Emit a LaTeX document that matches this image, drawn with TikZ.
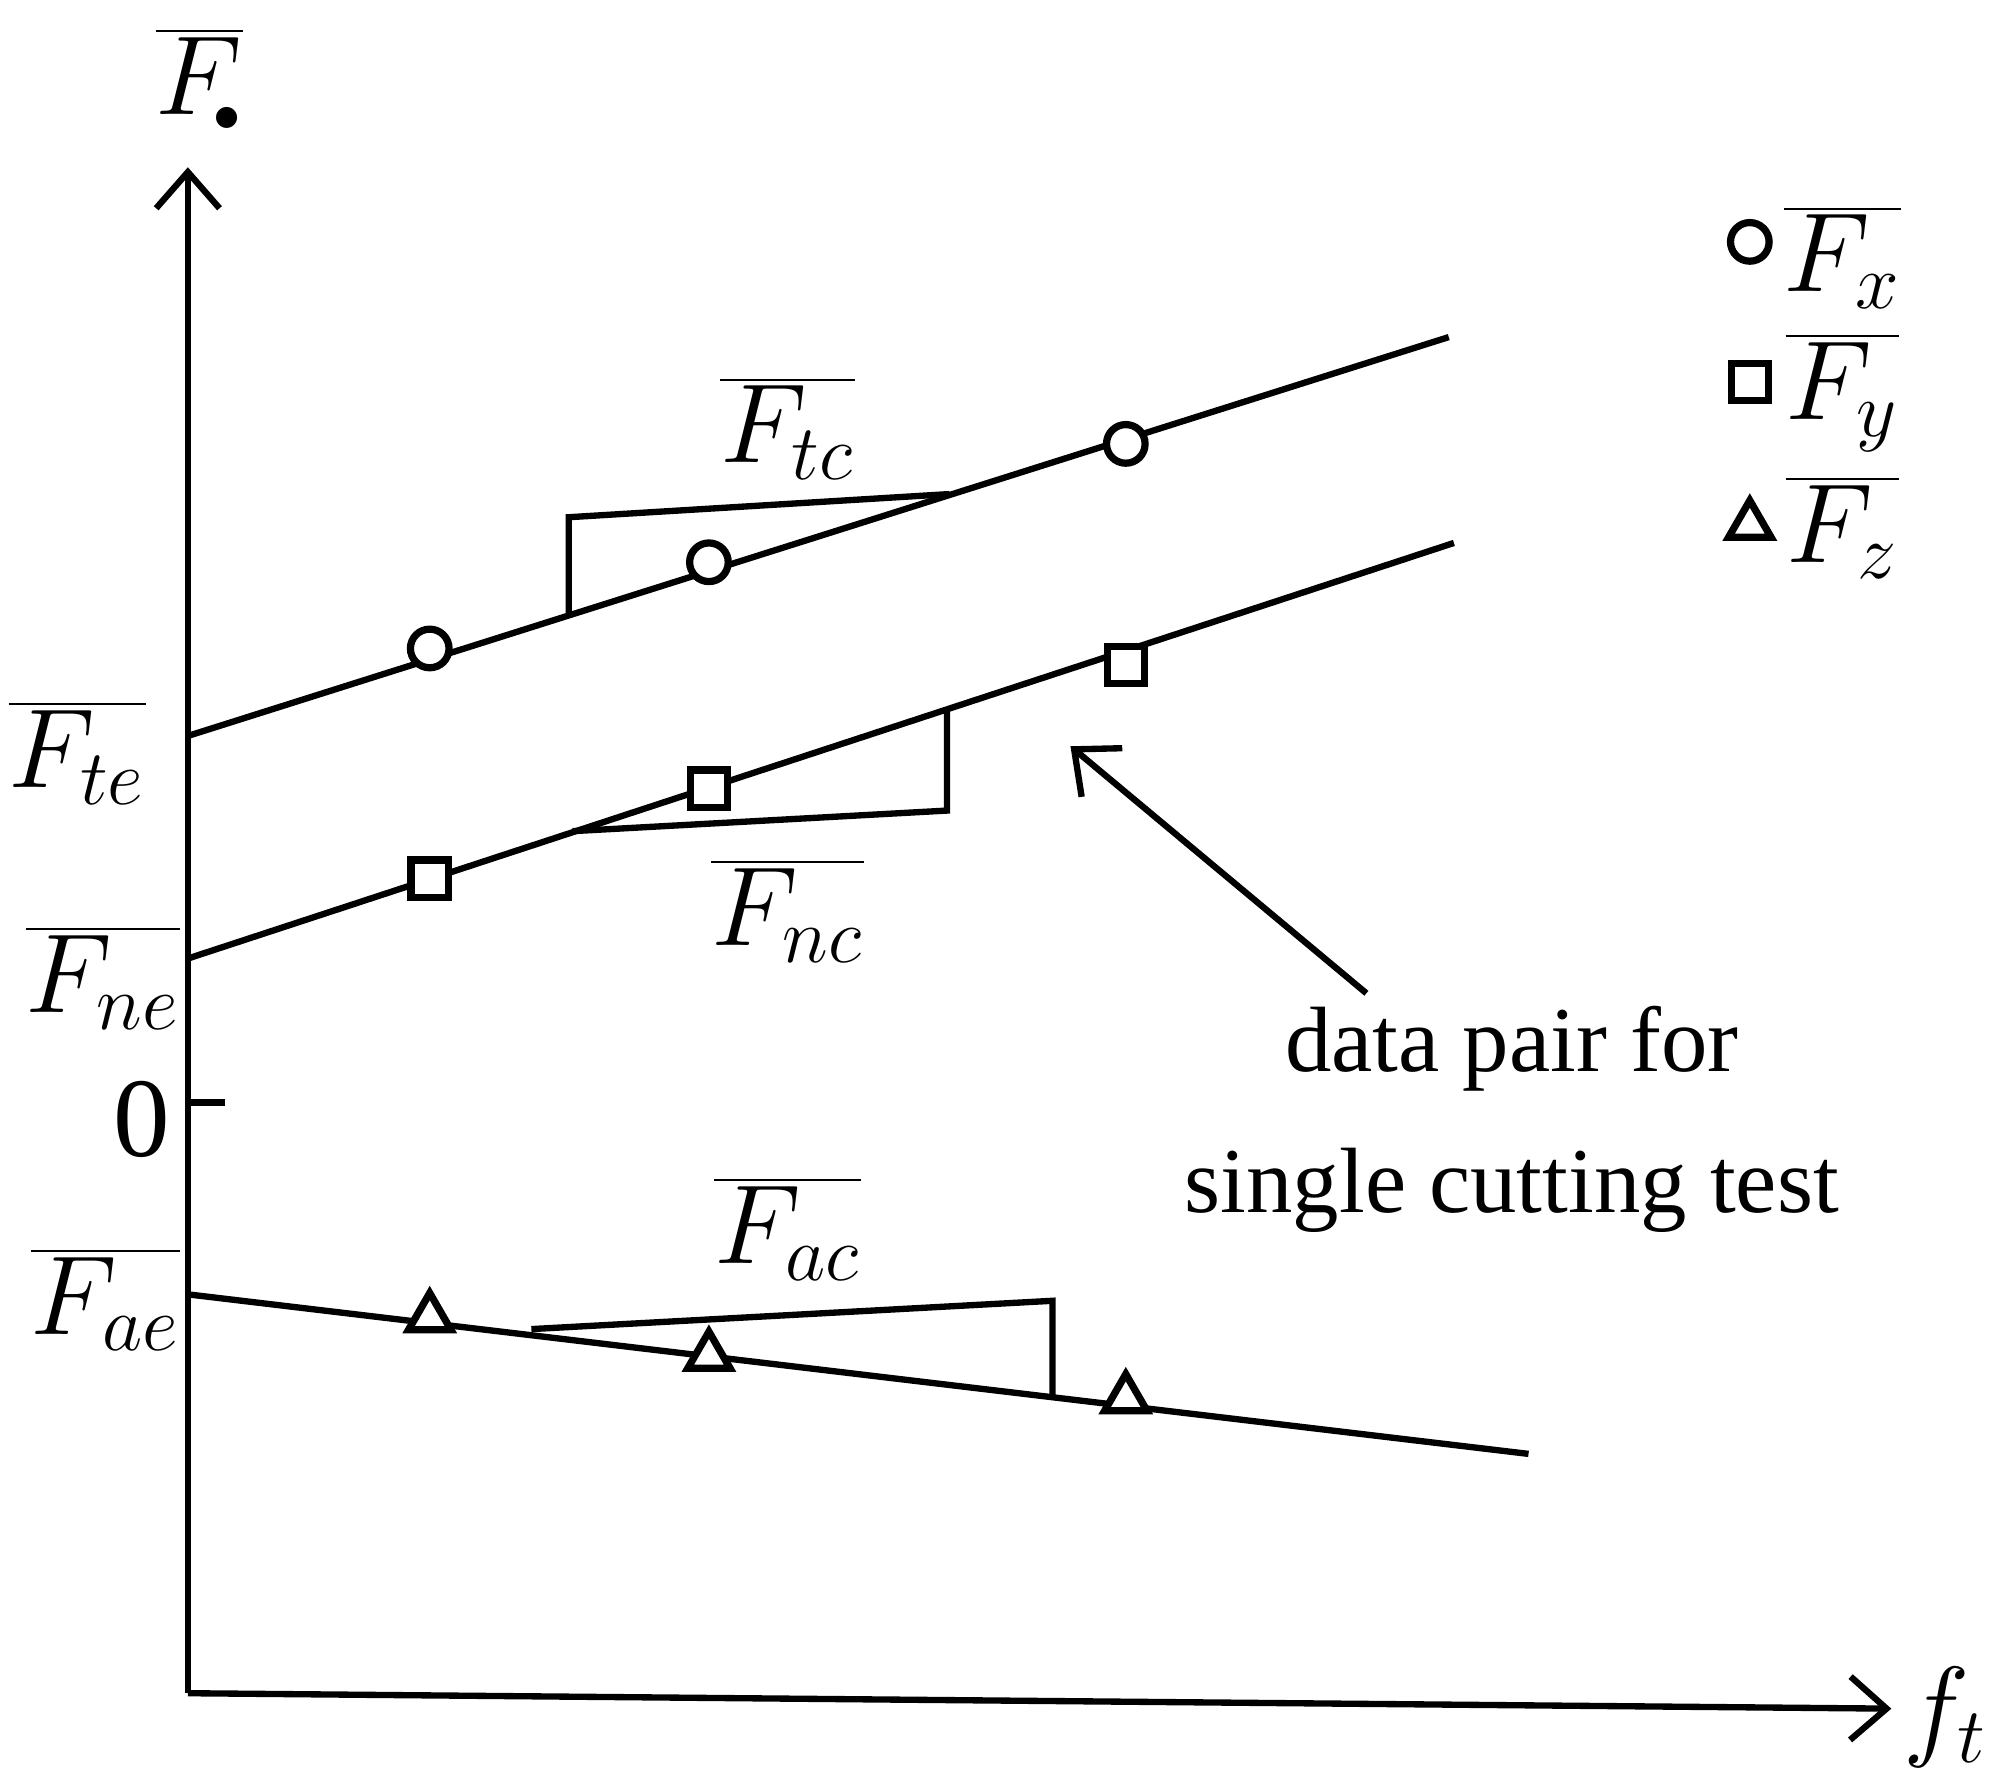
\documentclass[tikz,border=0pt]{standalone}
\usepackage{fontspec}
\setmainfont{Liberation Serif}
\usetikzlibrary{arrows.meta,shapes.geometric}
\begin{document}
\begin{tikzpicture}[x=0.01cm,y=-0.01cm,
  ln/.style={line width=1.4pt},
  ax/.style={line width=1.4pt,-{Straight Barb[length=8pt,width=14pt,line width=1.4pt]}},
  circ/.style={circle,draw,line width=1.6pt,fill=white,minimum size=0.3cm,inner sep=0pt},
  sq/.style={rectangle,draw,line width=1.6pt,fill=white,minimum size=0.29cm,inner sep=0pt},
  tri/.style={regular polygon,regular polygon sides=3,draw,line width=1.6pt,fill=white,minimum size=0.38cm,inner sep=0pt},
  lab/.style={font=\fontsize{23}{26}\selectfont,inner sep=0pt},
  txt/.style={font=\fontsize{20.5}{31}\selectfont,align=center}]
\useasboundingbox (0,0) rectangle (1563,1391);
\coordinate (o) at (146,1316);
\coordinate (ytop) at (146,130);
\coordinate (xend) at (1470,1328);
\draw[ax] (o) -- (ytop);
\draw[ax] (o) -- (xend);
% lines
\coordinate (a1) at (146,572); \coordinate (a2) at (1126,262);
\coordinate (b1) at (146,745); \coordinate (b2) at (1130,422);
\coordinate (c1) at (146,1006); \coordinate (c2) at (1188,1130);
\draw[ln] (a1) -- (a2);
\draw[ln] (b1) -- (b2);
\draw[ln] (c1) -- (c2);
% slope triangles
\coordinate (s1a) at (442,478); \coordinate (s1b) at (442,402); \coordinate (s1c) at (738,384);
\draw[ln] (s1a) -- (s1b) -- (s1c);
\coordinate (s2a) at (736,553); \coordinate (s2b) at (736,630); \coordinate (s2c) at (445,646);
\draw[ln] (s2a) -- (s2b) -- (s2c);
\coordinate (s3a) at (413,1033); \coordinate (s3b) at (818,1011); \coordinate (s3c) at (818,1085);
\draw[ln] (s3a) -- (s3b) -- (s3c);
% markers
\node[circ] (p1) at (334,504) {}; \node[circ] (p2) at (551,437) {}; \node[circ] (p3) at (875,345) {};
\node[sq] (q1) at (334,683) {}; \node[sq] (q2) at (551,613) {}; \node[sq] (q3) at (875,517) {};
\node[tri] (t1) at (334,1024) {}; \node[tri] (t2) at (551,1054) {}; \node[tri] (t3) at (875,1087) {};
% zero tick
\coordinate (z) at (146,857); \coordinate (zt) at (175,857);
\draw[ln] (z) -- (zt);
\node[lab,font=\fontsize{25}{28}\selectfont] (zero) at (110,870) {0};
% labels
\node[lab] (fdot) at (155,62) {$\overline{F_{\!\scriptscriptstyle\bullet}}$};
\node[lab] (ft) at (1512,1335) {$f_t$};
\node[lab] (fte) at (60,585) {$\overline{F_{te}}$};
\node[lab] (fne) at (80,760) {$\overline{F_{ne}}$};
\node[lab] (fae) at (82,1010) {$\overline{F_{ae}}$};
\node[lab] (ftc) at (612,333) {$\overline{F_{tc}}$};
\node[lab] (fnc) at (612,708) {$\overline{F_{nc}}$};
\node[lab] (fac) at (612,955) {$\overline{F_{ac}}$};
% legend
\node[circ] (lc) at (1360,188) {};
\node[sq] (ls) at (1360,297) {};
\node[tri] (lt) at (1360,408) {};
\node[lab] (lfx) at (1432,200) {$\overline{F_x}$};
\node[lab] (lfy) at (1432,305) {$\overline{F_y}$};
\node[lab] (lfz) at (1432,410) {$\overline{F_z}$};
% annotation
\node[txt] (note) at (1175,870) {data pair for\\single cutting test};
\coordinate (na) at (1062,772); \coordinate (nb) at (832,580);
\draw[ax] (na) -- (nb);
\end{tikzpicture}
\end{document}
